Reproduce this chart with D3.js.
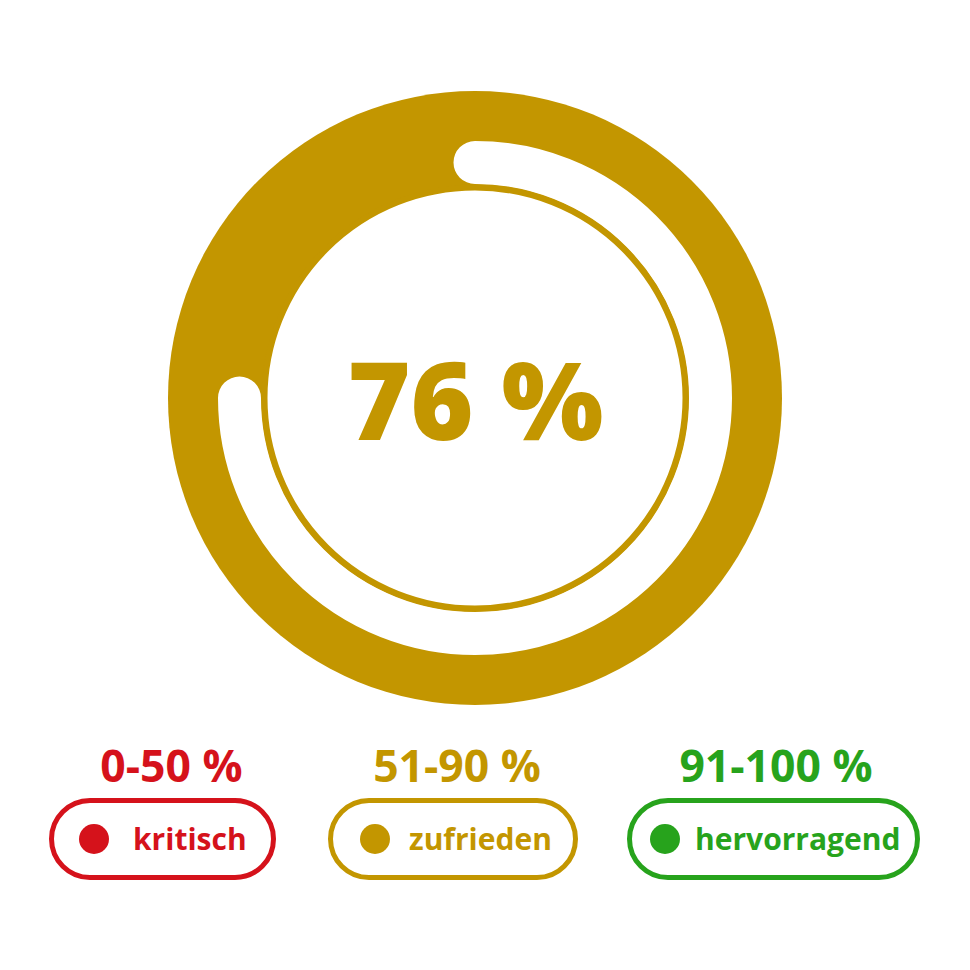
<!DOCTYPE html>
<html>
<head>
<meta charset="utf-8">
<script src="https://cdn.jsdelivr.net/npm/d3@7"></script>
<style>
  html, body { margin: 0; padding: 0; background: #ffffff; }
  svg { display: block; font-family: "Open Sans", "Noto Sans", sans-serif; }
</style>
</head>
<body>
<svg id="chart" width="970" height="970"></svg>
<script>
// ---- data ----
const scoreValue = 76;          // displayed score
const trackValue = 75;          // extent of the white track (percent of full turn)
const scoreLabel = "76 %";
const bandRanges = ["0-50 %", "51-90 %", "91-100 %"];
const bandNames = ["kritisch", "zufrieden", "hervorragend"];
const bandColors = ["#d5121b", "#c39600", "#27a31c"];
const bandLimits = [[0, 50], [51, 90], [91, 100]];

// ---- layout (not data) ----
const cx = 475, cy = 398;
const rOuter = 307;
const trackMid = 235.5, trackWidth = 43;
const innerR = 210.5, innerStroke = 6;
const pillLayout = [
  { x0: 51.5, x1: 273.5, dot: 94, text: 133, title: 171.5 },
  { x0: 330.5, x1: 575.5, dot: 375, text: 409, title: 457 },
  { x0: 629.5, x1: 917.5, dot: 665, text: 695, title: 776 }
];
const pillTop = 800.5, pillH = 77, pillStroke = 5, dotR = 15;
const nameSize = 30, rangeSize = 44.5;

const svg = d3.select("#chart");
const gold = bandColors[bandLimits.findIndex(l => scoreValue >= l[0] && scoreValue <= l[1])];
const angle = d3.scaleLinear().domain([0, 100]).range([0, 2 * Math.PI]);

const g = svg.append("g").attr("transform", `translate(${cx},${cy})`);

// big disc
g.append("circle").attr("r", rOuter).attr("fill", gold);

// white track arc with round ends
const p = d3.path();
p.arc(0, 0, trackMid, angle(0) - Math.PI / 2, angle(trackValue) - Math.PI / 2, false);
g.append("path")
  .attr("d", p.toString())
  .attr("fill", "none")
  .attr("stroke", "#ffffff")
  .attr("stroke-width", trackWidth)
  .attr("stroke-linecap", "round");

// inner white disc with gold ring
g.append("circle")
  .attr("r", innerR)
  .attr("fill", "#ffffff")
  .attr("stroke", gold)
  .attr("stroke-width", innerStroke);

// centre label
g.append("text")
  .attr("x", 0.5).attr("y", 42)
  .attr("text-anchor", "middle")
  .attr("fill", gold)
  .attr("font-size", 107.5)
  .attr("font-weight", 800)
  .text(scoreLabel);

// ---- legend ----
const legend = svg.append("g");
bandNames.forEach((name, i) => {
  const col = bandColors[i];
  const L = pillLayout[i];
  const item = legend.append("g");
  item.append("rect")
    .attr("x", L.x0).attr("y", pillTop)
    .attr("width", L.x1 - L.x0).attr("height", pillH)
    .attr("rx", pillH / 2).attr("ry", pillH / 2)
    .attr("fill", "#ffffff")
    .attr("stroke", col).attr("stroke-width", pillStroke);
  item.append("circle")
    .attr("cx", L.dot)
    .attr("cy", pillTop + pillH / 2)
    .attr("r", dotR)
    .attr("fill", col);
  item.append("text")
    .attr("x", L.text)
    .attr("y", pillTop + pillH / 2 + 10.5)
    .attr("font-size", nameSize)
    .attr("font-weight", 700)
    .attr("fill", col)
    .text(name);
  item.append("text")
    .attr("x", L.title)
    .attr("y", 782)
    .attr("text-anchor", "middle")
    .attr("font-size", rangeSize)
    .attr("font-weight", 700)
    .attr("fill", col)
    .text(bandRanges[i]);
});
</script>
</body>
</html>
